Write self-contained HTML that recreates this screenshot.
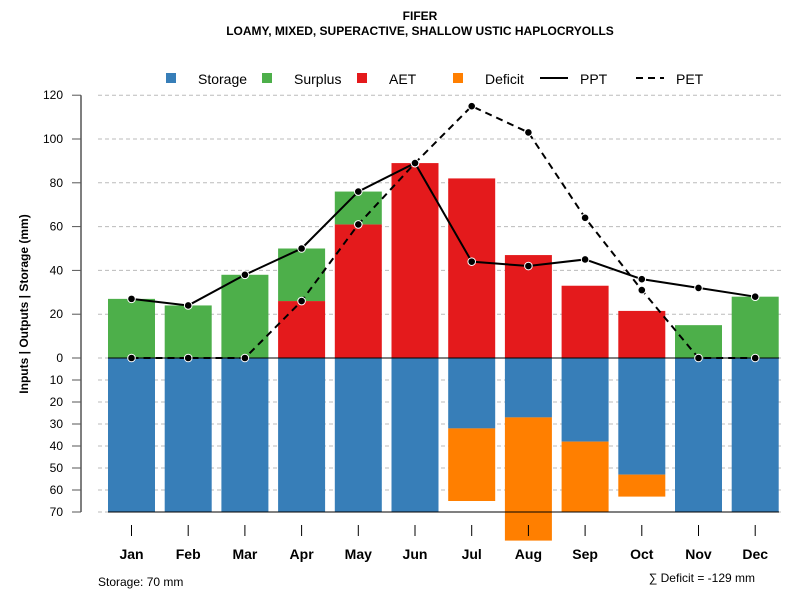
<!DOCTYPE html>
<html><head><meta charset="utf-8"><style>body{margin:0;background:#fff}svg{display:block;font-family:"Liberation Sans",Arial,sans-serif}</style></head>
<body>
<svg id="c" width="800" height="600" viewBox="0 0 800 600">
<text x="420" y="20" text-anchor="middle" font-size="12" font-weight="bold">FIFER</text>
<text x="420" y="35" text-anchor="middle" font-size="12" font-weight="bold">LOAMY, MIXED, SUPERACTIVE, SHALLOW USTIC HAPLOCRYOLLS</text>
<g id="legend" font-size="14">
<rect x="166" y="73" width="10" height="10" fill="#377eb8"/><text x="198" y="84">Storage</text>
<rect x="262" y="73" width="10" height="10" fill="#4daf4a"/><text x="294" y="84">Surplus</text>
<rect x="357" y="73" width="10" height="10" fill="#e41a1c"/><text x="389" y="84">AET</text>
<rect x="453" y="73" width="10" height="10" fill="#ff7f00"/><text x="485" y="84">Deficit</text>
<line x1="540" y1="78" x2="568" y2="78" stroke="#000" stroke-width="2"/><text x="580" y="84">PPT</text>
<line x1="636" y1="78" x2="664" y2="78" stroke="#000" stroke-width="2" stroke-dasharray="7,5"/><text x="676" y="84">PET</text>
</g>
<text transform="translate(28,304) rotate(-90)" text-anchor="middle" font-size="12" font-weight="bold">Inputs | Outputs | Storage    (mm)</text>
<g id="grid"></g><g id="bars"></g><g id="axes"></g><g id="lines"></g>
<text x="98" y="586" font-size="12">Storage: 70 mm</text>
<text x="755" y="582" text-anchor="end" font-size="12">∑ Deficit = -129 mm</text>
</svg>
<script>
const months=["Jan","Feb","Mar","Apr","May","Jun","Jul","Aug","Sep","Oct","Nov","Dec"];
const aet=[0,0,0,26,61,89,82,47,33,21.5,0,0];
const surplus=[27,24,38,24,15,0,0,0,0,0,15,28];
const storage=[70,70,70,70,70,70,32,27,38,53,70,70];
const deficit=[0,0,0,0,0,0,33,56,32,10,0,0];
const ppt=[27,24,38,50,76,89,44,42,45,36,32,28];
const pet=[0,0,0,26,61,89,115,103,64,31,0,0];
const upTicks=[0,20,40,60,80,100,120];
const downTicks=[10,20,30,40,50,60,70];
const NS="http://www.w3.org/2000/svg";
function yUp(v){return 358-v*2.19;}
function yDn(v){return 358+v*2.2;}
function xC(i){return 131.5+i*56.7;}
function mk(tag,par,at){const e=document.createElementNS(NS,tag);for(const k in at)e.setAttribute(k,at[k]);document.getElementById(par).appendChild(e);return e;}
upTicks.forEach(t=>{
 let l=mk('line','grid',{x1:98,x2:782,y1:yUp(t),y2:yUp(t),stroke:'#bbb','stroke-dasharray':'4,3'});
 
 
 let tk=mk('line','axes',{x1:72,x2:81,y1:yUp(t),y2:yUp(t),stroke:'#555'});
 
 
 let tx=mk('text','axes',{x:63,y:yUp(t)+4,'text-anchor':'end','font-size':12});tx.textContent=t;
 
 
});
downTicks.forEach(t=>{
 let l=mk('line','grid',{x1:98,x2:782,y1:yDn(t),y2:yDn(t),stroke:'#bbb','stroke-dasharray':'4,3'});
 
 
 let tk=mk('line','axes',{x1:72,x2:81,y1:yDn(t),y2:yDn(t),stroke:'#555'});
 
 
 let tx=mk('text','axes',{x:63,y:yDn(t)+4,'text-anchor':'end','font-size':12});tx.textContent=t;
 
 
});
let ax=mk('line','axes',{x1:81,x2:81,y1:yUp(120),y2:yDn(70),stroke:'#555','stroke-width':1.5});


const W=47;
months.forEach((m,i)=>{
 const x=xC(i)-W/2;
 let b=mk('rect','bars',{x:x,width:W,y:yDn(0),height:yDn(storage[i])-yDn(0),fill:'#377eb8'});
 
 
 if(deficit[i]>0){let d=mk('rect','bars',{x:x,width:W,y:yDn(storage[i]),height:yDn(storage[i]+deficit[i])-yDn(storage[i]),fill:'#ff7f00'});
 
 }
 if(aet[i]>0){let a=mk('rect','bars',{x:x,width:W,y:yUp(aet[i]),height:yUp(0)-yUp(aet[i]),fill:'#e41a1c'});
 
 }
 if(surplus[i]>0){let s=mk('rect','bars',{x:x,width:W,y:yUp(aet[i]+surplus[i]),height:yUp(aet[i])-yUp(aet[i]+surplus[i]),fill:'#4daf4a'});
 
 }
 let tk=mk('line','axes',{x1:xC(i),x2:xC(i),y1:525,y2:536,stroke:'#000'});
 
 
 let tx=mk('text','axes',{x:xC(i),y:559,'text-anchor':'middle','font-size':14,'font-weight':'bold'});tx.textContent=m;
 
 
});
let z=mk('line','bars',{x1:108,x2:779,y1:358,y2:358,stroke:'#000'});


let bl=mk('line','bars',{x1:108,x2:779,y1:yDn(70),y2:yDn(70),stroke:'#000'});


function series(vals,name,dash){
 const pts=vals.map((v,i)=>xC(i)+','+yUp(v)).join(' ');
 let p=mk('polyline','lines',{points:pts,fill:'none',stroke:'#000','stroke-width':2,'stroke-dasharray':dash});
 
 
 vals.forEach((v,i)=>{let c=mk('circle','lines',{cx:xC(i),cy:yUp(v),r:3.8,fill:'#000',stroke:'#fff','stroke-width':1});
 
 });
}
series(pet,'pet','7,5');
series(ppt,'ppt','none');
</script>
</body></html>
